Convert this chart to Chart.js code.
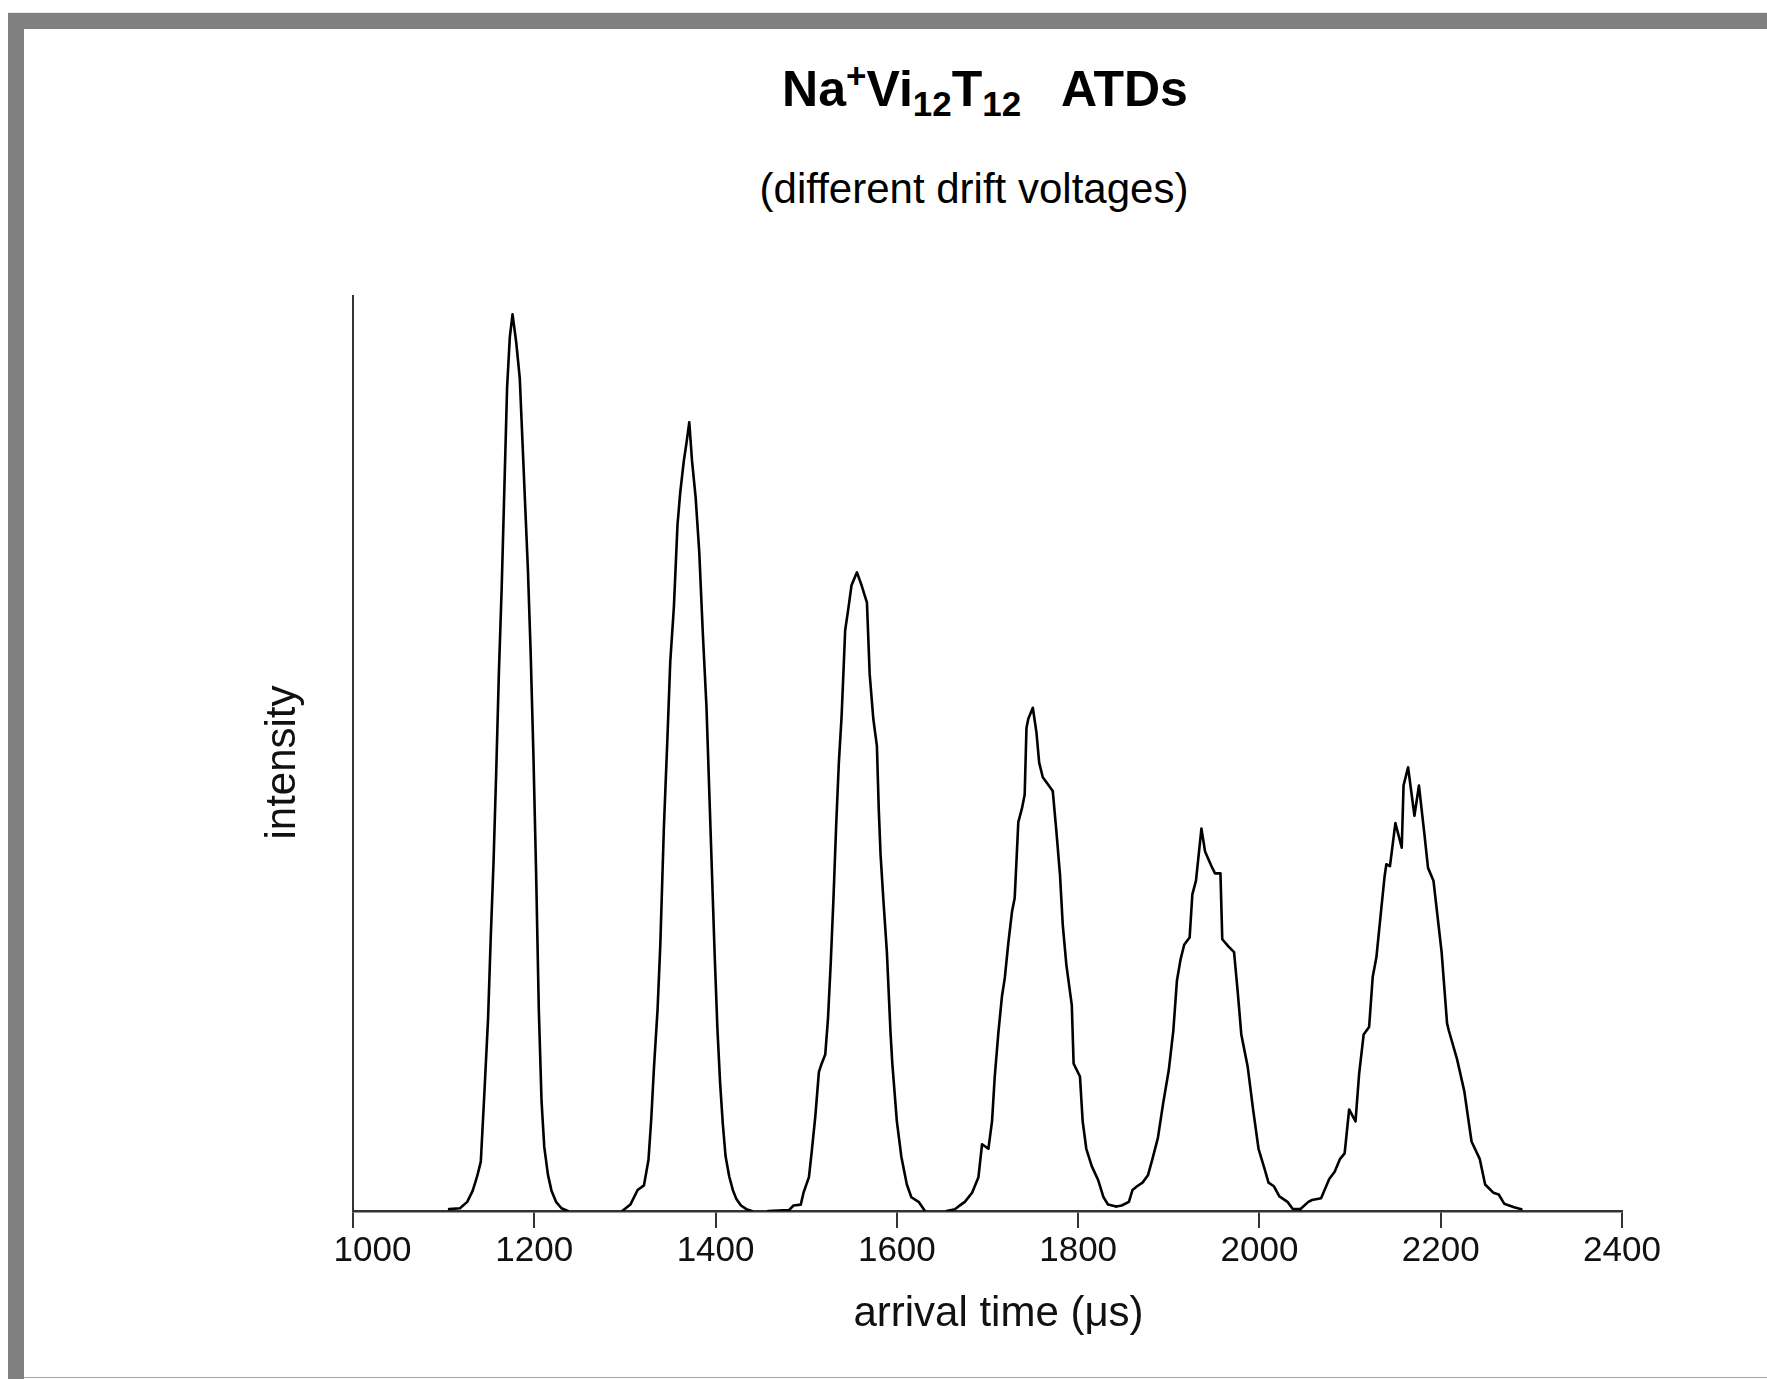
<!DOCTYPE html>
<html>
<head>
<meta charset="utf-8">
<script src="https://cdn.jsdelivr.net/npm/chart.js@4.4.1/dist/chart.umd.min.js"></script>
<style>
  html, body { margin:0; padding:0; background:#fff; }
  body { width:1767px; height:1379px; position:relative; overflow:hidden; font-family:"Liberation Sans", Arial, sans-serif; color:#000; }
  .edge { position:absolute; left:8px; top:12px; right:0; height:1px; background:#e6e6e6; }
  .band-top { position:absolute; left:8px; top:13px; right:0; height:16px; background:#808080; }
  .band-left { position:absolute; left:8px; top:13px; width:16px; bottom:0; background:#808080; }
  .band-bottom { position:absolute; left:24px; right:0; top:1377px; height:1px; background:#a6a6a6; }
  #title { position:absolute; left:0; width:1970px; top:64px; text-align:center; white-space:pre;
           font:bold 50px/50px "Liberation Sans", Arial, sans-serif; }
  #title .sub { font-size:35px; line-height:0; position:relative; top:10px; }
  #title .sup { font-size:35px; line-height:0; position:relative; top:-18px; }
  #subtitle { position:absolute; left:0; width:1948px; top:168px; text-align:center;
              font:42px/42px "Liberation Sans", Arial, sans-serif; }
  #chart { position:absolute; left:0; top:0; }
</style>
</head>
<body>
<div class="edge"></div>
<div class="band-top"></div>
<div class="band-left"></div>
<div class="band-bottom"></div>
<div id="title">Na<span class="sup">+</span>Vi<span class="sub">12</span>T<span class="sub">12</span>   ATDs</div>
<div id="subtitle">(different drift voltages)</div>
<canvas id="chart" width="1767" height="1379"></canvas>
<script>
// arrival times (µs) and intensities for each drift voltage
const t1 = [1106,1118,1126,1132,1137,1141,1145,1149,1152,1155,1158,1161,1164,1167,1170,1173,1176,1180,1184,1187,1190,1193,1196,1199,1202,1205,1208,1211,1215,1219,1224,1230,1237];
const y1 = [0.2,0.3,1,2.2,3.8,5.4,13,21,30,38,48,59,68,79,90,95.5,98,95,91,84,77,70,61,50,37,22,12,7,4,2.2,1,0.3,0];

const t2 = [1297,1306,1314,1321,1326,1329,1332,1336,1339,1343,1347,1350,1354,1358,1361,1365,1368,1371,1374,1378,1382,1386,1390,1393,1396,1399,1402,1405,1408,1411,1415,1419,1423,1428,1434,1440];
const y2 = [0,0.7,2.3,2.8,5.6,10,15.6,22,29,42,52,60,66,75,78.5,82,84,86.2,82,78,72,63,55,46,37,28,20,14,9.5,6,3.8,2.3,1.3,0.6,0.2,0];

const t3 = [1458,1481,1486,1494,1497,1503,1506,1510,1514,1517,1521,1524,1527,1530,1533,1536,1539,1541,1543,1546,1550,1556,1561,1567,1570,1574,1578,1580,1582,1585,1589,1593,1595,1600,1605,1611,1616,1624,1631];
const y3 = [0,0.1,0.6,0.7,2,3.7,6.4,10.3,15.2,16.1,17.1,21,27,34,42,49,54,58.7,63.5,65.5,68.4,69.8,68.4,66.5,58.7,53.8,50.8,44,39,34.2,28.3,19.5,16.1,9.8,5.9,2.9,1.5,1,0];

const t4 = [1655,1664,1668,1675,1683,1690,1694,1701,1705,1708,1712,1716,1719,1723,1727,1730,1734,1738,1741,1743,1745,1750,1754,1757,1761,1772,1776,1780,1783,1787,1793,1795,1802,1805,1809,1815,1822,1828,1833,1842];
const y4 = [0,0.2,0.5,1,2,3.7,7.3,6.8,9.8,14.7,19.5,23.5,25.4,29.3,32.7,34.2,42.5,44,45.5,52.8,53.8,55,52.3,49,47.4,45.9,41.5,36.7,31.3,26.9,22.5,16.1,14.7,9.8,6.8,4.9,3.4,1.5,0.7,0.5];

const t5 = [1842,1848,1856,1860,1865,1871,1877,1882,1888,1894,1900,1905,1909,1913,1917,1923,1926,1930,1936,1940,1947,1951,1957,1959,1966,1972,1976,1980,1987,1993,1999,2006,2010,2016,2022,2031,2037,2045];
const y5 = [0.5,0.6,1,2.3,2.7,3.1,3.9,5.7,8,11.9,15.4,19.7,25.2,27.5,29.1,29.9,34.6,36.1,41.8,39.3,37.7,36.9,36.9,29.7,28.9,28.3,24,19.3,15.8,11.1,6.8,4.5,3.1,2.7,1.6,1,0.2,0.2];

const t6 = [2045,2054,2058,2068,2077,2083,2089,2094,2099,2106,2110,2115,2121,2125,2129,2134,2138,2140,2144,2150,2157,2159,2164,2171,2176,2182,2186,2192,2201,2207,2209,2218,2226,2234,2243,2249,2258,2264,2270,2281,2289];
const y6 = [0.2,1,1.2,1.4,3.5,4.3,5.7,6.3,11.1,9.8,15,19.3,20.1,25.6,27.7,32.6,36.5,37.9,37.7,42.4,39.7,46.5,48.5,43.2,46.5,41.2,37.5,36.1,28.3,20.5,19.7,16.6,13.1,7.6,5.7,2.9,2,1.8,0.8,0.4,0.2];

const xTicks = [1000,1200,1400,1600,1800,2000,2200,2400];
const xTitle = 'arrival time (μs)';
const yTitle = 'intensity';

const series = [[t1,y1],[t2,y2],[t3,y3],[t4,y4],[t5,y5],[t6,y6]];

const FONT = '"Liberation Sans", Arial, sans-serif';
Chart.defaults.font.family = FONT;
Chart.defaults.color = '#111';

// axis titles sit a little off-centre in the original, so place them by hand
const axisTitles = {
  id:'axisTitles',
  afterDraw(chart) {
    const {ctx, chartArea:a} = chart;
    ctx.save();
    ctx.fillStyle = '#111';
    ctx.font = '42px ' + FONT;
    ctx.textAlign = 'center';
    ctx.textBaseline = 'middle';
    ctx.fillText(xTitle, (a.left + a.right) / 2 + 11, a.bottom + 103);
    ctx.translate(a.left - 70, (a.top + a.bottom) / 2 + 9);
    ctx.rotate(-Math.PI / 2);
    ctx.fillText(yTitle, 0, 0);
    ctx.restore();
  }
};

new Chart(document.getElementById('chart'), {
  type:'line',
  data:{
    datasets: series.map(([ts, ys]) => ({
      data: ts.map((x,i) => ({x, y: ys[i]})),
      borderColor:'#000', borderWidth:2.6, borderJoinStyle:'round', borderCapStyle:'round',
      pointRadius:0, fill:false, tension:0
    }))
  },
  options:{
    responsive:false, animation:false, devicePixelRatio:1,
    layout:{padding:{left:0, top:296, right:145, bottom:0}},
    plugins:{legend:{display:false}, tooltip:{enabled:false}},
    scales:{
      x:{
        type:'linear', min:1000, max:2400,
        afterBuildTicks: s => { s.ticks = xTicks.map(v => ({value:v})); },
        afterFit: s => { s.height = 168; },
        grid:{display:true, drawOnChartArea:false, drawTicks:true, tickLength:17, color:'#333', lineWidth:2},
        border:{display:true, color:'#333', width:2.5},
        // first label is nudged right of its tick in the original
        ticks:{font:{size:35}, padding:2, maxRotation:0, autoSkip:false,
               callback: (v, i) => i === 0 ? '    ' + v : String(v)},
        title:{display:false}
      },
      y:{
        min:0, max:100,
        afterFit: s => { s.width = 353; },
        grid:{display:false},
        ticks:{display:false},
        border:{display:true, color:'#333', width:2},
        title:{display:false}
      }
    }
  },
  plugins:[axisTitles]
});
</script>
</body>
</html>
